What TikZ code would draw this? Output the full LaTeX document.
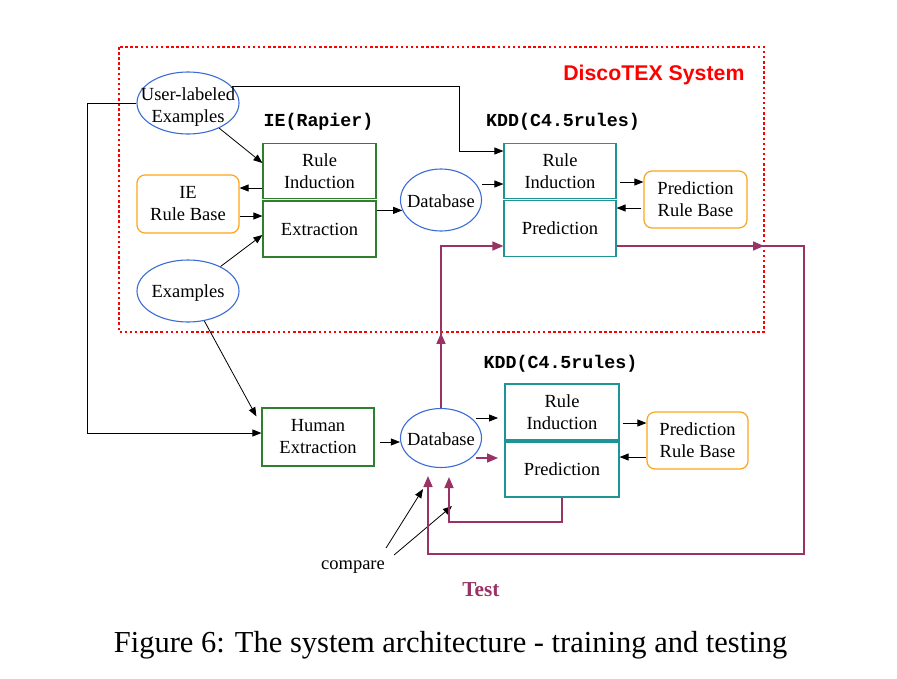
\documentclass[tikz,border=0pt]{standalone}
\usepackage{fontspec}
\setmainfont{Liberation Serif}
\setsansfont{Liberation Sans}
\setmonofont{Liberation Mono}
\usetikzlibrary{arrows.meta,shapes.geometric,calc}
\definecolor{redx}{HTML}{FF0000}
\definecolor{bluex}{HTML}{3A6BD6}
\definecolor{greenx}{HTML}{2F7F2F}
\definecolor{tealx}{HTML}{1E9494}
\definecolor{orangex}{HTML}{FFA31A}
\definecolor{plumx}{HTML}{993366}
\tikzset{
  ell/.style={ellipse,draw=bluex,line width=1.1pt,inner sep=0pt},
  txt/.style={font=\fontsize{18.5}{22}\selectfont,align=center,inner sep=0pt},
  gb/.style={txt,draw=greenx,line width=1.2pt},
  tb/.style={txt,draw=tealx,line width=1.2pt},
  rb/.style={txt,draw=orangex,line width=1.2pt,rounded corners=8pt},
  mono/.style={font=\fontsize{18.3}{20}\selectfont\ttfamily\bfseries},
  ar/.style={-{Triangle[length=9pt,width=7pt]},line width=0.8pt},
  arp/.style={-{Triangle[length=11pt,width=9pt]},line width=1.6pt,plumx}
}
\begin{document}
\begin{tikzpicture}[x=1pt,y=-1pt]
\useasboundingbox (0,0) rectangle (897,678);
\draw[redx,line width=2.5pt,dash pattern=on 2.5pt off 2.6pt] (119,47) rectangle (764,332);
\node[anchor=east,font=\fontsize{21.3}{24}\selectfont\sffamily\bfseries,text=redx] (sys) at (748,75) {DiscoTEX System};
% inputs
\node[ell,minimum width=102pt,minimum height=62pt] (ul) at (188,103) {};
\node[txt] at ([yshift=-4pt]ul) {User-labeled\\Examples};
\node[ell,minimum width=102pt,minimum height=62pt] (ex) at (188,291) {};
\node[txt] at ([yshift=-2pt]ex) {Examples};
\node[rb,minimum width=102pt,minimum height=58pt] (ierb) at (188,204) {IE\\Rule Base};
% IE block
\node[mono] (iel) at (318.5,122) {IE(Rapier)};
\node[gb,minimum width=113pt,minimum height=55.5pt] (ieri) at (319.5,171) {Rule\\Induction};
\node[gb,minimum width=113pt,minimum height=56pt] (iex) at (319.5,229) {Extraction};
\node[ell,minimum width=81pt,minimum height=62pt] (db1) at (441,200) {};
\node[txt] at ([yshift=-1.5pt]db1) {Database};
% KDD block, training
\node[mono] (kl1) at (563,122) {KDD(C4.5rules)};
\node[tb,minimum width=112pt,minimum height=55.5pt] (kri1) at (560,171) {Rule\\Induction};
\node[tb,minimum width=112pt,minimum height=55.5pt] (kp1) at (560,228.5) {Prediction};
\node[rb,minimum width=103pt,minimum height=57pt] (prb1) at (695.5,199.5) {Prediction\\Rule Base};
% KDD block, testing
\node[gb,minimum width=112pt,minimum height=58pt] (he) at (318,437) {Human\\Extraction};
\node[ell,minimum width=81pt,minimum height=59pt] (db2) at (441,438) {};
\node[txt] at ([yshift=-1.5pt]db2) {Database};
\node[mono] (kl2) at (560.5,364) {KDD(C4.5rules)};
\node[tb,minimum width=114pt,minimum height=56pt] (kri2) at (562,412) {Rule\\Induction};
\node[tb,minimum width=114pt,minimum height=55pt] (kp2) at (562,469.5) {Prediction};
\node[rb,minimum width=101pt,minimum height=57pt] (prb2) at (697.5,440.5) {Prediction\\Rule Base};
\node[txt] (cmp) at (353,567) {compare};
\node[font=\fontsize{21.3}{24}\selectfont\bfseries,text=plumx] (test) at (481,590) {Test};
\node[font=\fontsize{30.5}{34}\selectfont] (cap) at (450.5,645) {Figure 6: The system architecture - training and testing};
% black arrows
\draw[ar] (ul) -- ([yshift=8pt]ieri.west);
\draw[ar] (ieri.west |- 0,188) -- (ierb.east |- 0,188);
\draw[ar] (ierb.east |- 0,216) -- (iex.west |- 0,216);
\draw[ar] (ex) -- (iex.west |- 0,235);
\draw[ar] (iex.east |- db1.195) -- (db1.195);
\draw[ar] (ul.20) -| (459,151) -- (kri1.west |- 0,151);
\draw[ar] (db1.east |- 0,184) -- (kri1.west |- 0,184);
\draw[ar] (kri1.east |- 0,182) ++(3,0) -- (prb1.west |- 0,182);
\draw[ar] (prb1.west |- 0,208) ++(-2,0) -- (kp1.east |- 0,208);
\draw[ar] (ul.west) -| (87,433) -- (he.west |- 0,433);
\draw[ar] (ex) -- ([shift={(-5pt,-9pt)}]he.north west);
\draw[ar] (he.east |- 0,442) ++(5,0) -- (db2.west |- 0,442);
\draw[ar] (db2.east |- 0,418) ++(-6,0) -- ++(22,0);
\draw[ar] (kri2.east |- 0,423) ++(3,0) -- (prb2.west |- 0,423);
\draw[ar] (prb2.west |- 0,457) -- (kp2.east |- 0,457);
\draw[ar] (cmp.east) ++(1,-19) -- (423,489);
\draw[ar] (cmp.east) ++(9,-12) -- (452,506);
% test paths
\draw[arp] (db2.east |- 0,458) ++(-6,0) -- ++(22,0);
\draw[arp] (db2.north) -- ++(0,-75);
\draw[arp] (db2.north) |- (kp1.west |- 0,246);
\draw[arp] (kp1.east |- 0,246) -- (764,246);
\draw[arp] (kp1.east |- 0,246) -- (804,246) |- (428,554) -- (428,476);
\draw[arp] (kp2.south) |- (449,522) -- (449,477);
\end{tikzpicture}
\end{document}
